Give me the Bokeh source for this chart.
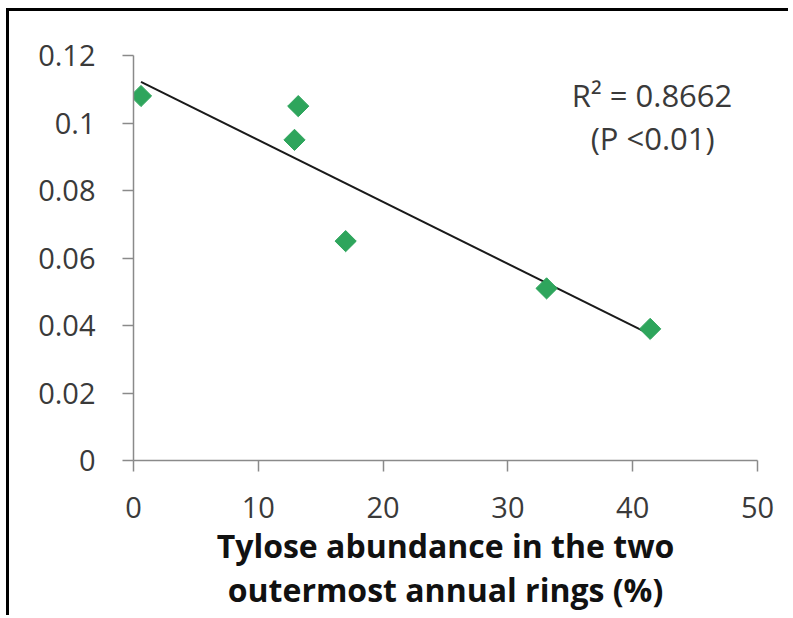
import numpy as np
from bokeh.plotting import figure
from bokeh.models import FixedTicker, Label, Range1d
from bokeh.embed import file_html
from bokeh.resources import INLINE

# ---- data ----
tylose_pct = [0.6, 13.2, 12.9, 17.0, 33.1, 41.4]
response = [0.108, 0.105, 0.095, 0.065, 0.051, 0.039]
x_ticks = [0, 10, 20, 30, 40, 50]
y_ticks = [0, 0.02, 0.04, 0.06, 0.08, 0.1, 0.12]
y_tick_labels = ["0", "0.02", "0.04", "0.06", "0.08", "0.1", "0.12"]
x_tick_labels = ["0", "10", "20", "30", "40", "50"]
x_title = "Tylose abundance in the two\noutermost annual rings (%)"
r2_text = "R\u00b2 = 0.8662"
p_text = "(P <0.01)"

FONT = "Open Sans"
AXIS_COLOR = "#8a8a8a"
TEXT_COLOR = "#3a3a3a"

slope, intercept = np.polyfit(tylose_pct, response, 1)
trend_x = [min(tylose_pct), max(tylose_pct)]
trend_y = [slope * v + intercept for v in trend_x]

p = figure(width=782, height=607, output_backend="svg", toolbar_location=None,
           x_range=Range1d(0, 50), y_range=Range1d(0, 0.12),
           min_border_left=124, min_border_right=34, min_border_top=44,
           min_border_bottom=158)
p.styles = {"border-left": "3px solid black", "border-top": "3px solid black",
            "margin-left": "6px", "margin-top": "8px"}
p.outline_line_color = None
p.xgrid.visible = False
p.ygrid.visible = False
p.background_fill_color = "white"
p.border_fill_color = "white"

p.line(trend_x, trend_y, line_color="#1a1a1a", line_width=2)
p.scatter(tylose_pct, response, marker="square", angle=np.pi / 4, size=15,
          fill_color="#2ea55c", line_color="#2ea55c")

for ax in (p.xaxis[0], p.yaxis[0]):
    ax.axis_line_color = AXIS_COLOR
    ax.axis_line_width = 1.5
    ax.major_tick_line_color = AXIS_COLOR
    ax.major_tick_line_width = 1.5
    ax.major_tick_in = 0
    ax.major_tick_out = 11
    ax.minor_tick_line_color = None
    ax.major_label_text_font = FONT
    ax.major_label_text_font_size = "29px"
    ax.major_label_text_color = TEXT_COLOR

p.xaxis.ticker = FixedTicker(ticks=x_ticks)
p.xaxis.major_label_overrides = {t: s for t, s in zip(x_ticks, x_tick_labels)}
p.yaxis.ticker = FixedTicker(ticks=y_ticks)
p.yaxis.major_label_overrides = {t: s for t, s in zip(y_ticks, y_tick_labels)}
p.yaxis.major_label_standoff = 27
p.xaxis.major_label_standoff = 25

p.xaxis.axis_label = x_title
p.xaxis.axis_label_text_font = FONT
p.xaxis.axis_label_text_font_style = "bold"
p.xaxis.axis_label_text_font_size = "32px"
p.xaxis.axis_label_text_line_height = 1.03
p.xaxis.axis_label_text_color = "#111111"
p.xaxis.axis_label_standoff = 3

p.add_layout(Label(x=41.55, y=0.1082, text=r2_text, text_align="center",
                   text_baseline="alphabetic", text_font=FONT,
                   text_font_size="31px", text_color=TEXT_COLOR))
p.add_layout(Label(x=41.6, y=0.0957, text=p_text, text_align="center",
                   text_baseline="alphabetic", text_font=FONT,
                   text_font_size="31px", text_color=TEXT_COLOR))

open("out.html", "w").write(file_html(p, INLINE))
